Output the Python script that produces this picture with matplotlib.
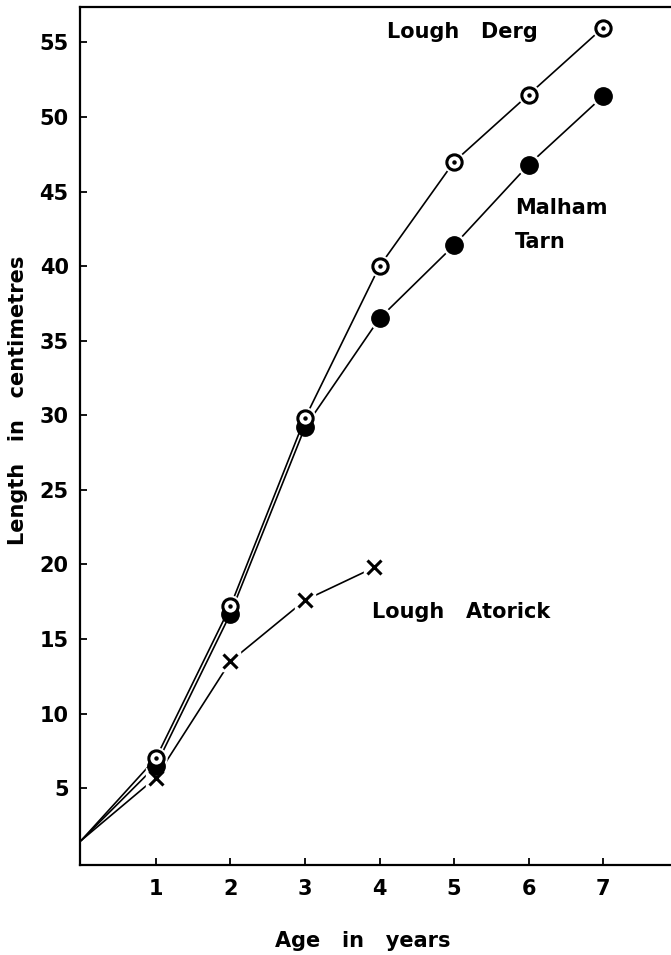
import matplotlib.pyplot as plt

plt.rcParams['font.family'] = ['DejaVu Sans']
plt.rcParams['font.weight'] = 'bold'

# Age in years (0 is the common start point)
age = [0, 1, 2, 3, 4, 5, 6, 7]
age_atorick = [0, 1, 2, 3, 3.93]

# Length in centimetres
lough_derg = [1.5, 7.0, 17.2, 29.8, 40.0, 47.0, 51.5, 56.0]
malham_tarn = [1.5, 6.5, 16.7, 29.2, 36.5, 41.4, 46.8, 51.4]
lough_atorick = [1.5, 5.7, 13.5, 17.6, 19.8]

x_ticks = [1, 2, 3, 4, 5, 6, 7]
y_ticks = [5, 10, 15, 20, 25, 30, 35, 40, 45, 50, 55]

fig = plt.figure(figsize=(6.71, 9.55), dpi=100)
ax = fig.add_axes([0.119, 0.094, 0.881, 0.899])

# Lines
ax.plot(age, lough_derg, color="black", lw=1.2, zorder=2)
ax.plot(age, malham_tarn, color="black", lw=1.2, zorder=2)
ax.plot(age_atorick, lough_atorick, color="black", lw=1.2, zorder=2)

# White halos so lines stop short of the markers
ax.plot(age[1:], lough_derg[1:], "o", ms=15, color="white", zorder=3)
ax.plot(age[4:], malham_tarn[4:], "o", ms=16, color="white", zorder=3)
ax.plot(age_atorick[1:], lough_atorick[1:], "s", ms=15, color="white", zorder=3)

# Markers
ax.plot(age[1:], malham_tarn[1:], "o", ms=12.5, color="black", zorder=4)
ax.plot(age[1:], lough_derg[1:], "o", ms=11, mfc="white", mec="black", mew=2.2, zorder=5)
ax.plot(age[1:], lough_derg[1:], "o", ms=2.2, color="black", zorder=6)
ax.plot(age_atorick[1:], lough_atorick[1:], "x", ms=9.5, mew=2.2, color="black", zorder=5)

# Series labels
ax.text(4.1, 55.7, "Lough   Derg", fontsize=15, va="center", ha="left")
ax.text(5.82, 43.9, "Malham", fontsize=15, va="center", ha="left")
ax.text(5.82, 41.6, "Tarn", fontsize=15, va="center", ha="left")
ax.text(3.9, 16.8, "Lough   Atorick", fontsize=15, va="center", ha="left")

ax.set_xlim(-0.02, 7.91)
ax.set_ylim(-0.17, 57.4)
ax.set_xticks(x_ticks)
ax.set_yticks(y_ticks)
ax.tick_params(direction="in", length=5, width=1.3, labelsize=15, pad=10)
ax.tick_params(axis="y", pad=8)

for side in ["left", "bottom", "top"]:
    ax.spines[side].set_linewidth(1.6)
ax.spines["right"].set_visible(False)

fig.text(0.54, 0.015, "Age   in   years", fontsize=15, ha="center", va="center")
fig.text(0.027, 0.581, "Length   in   centimetres", fontsize=15, rotation=90,
         ha="center", va="center")

fig.savefig("out.png", dpi=100)
